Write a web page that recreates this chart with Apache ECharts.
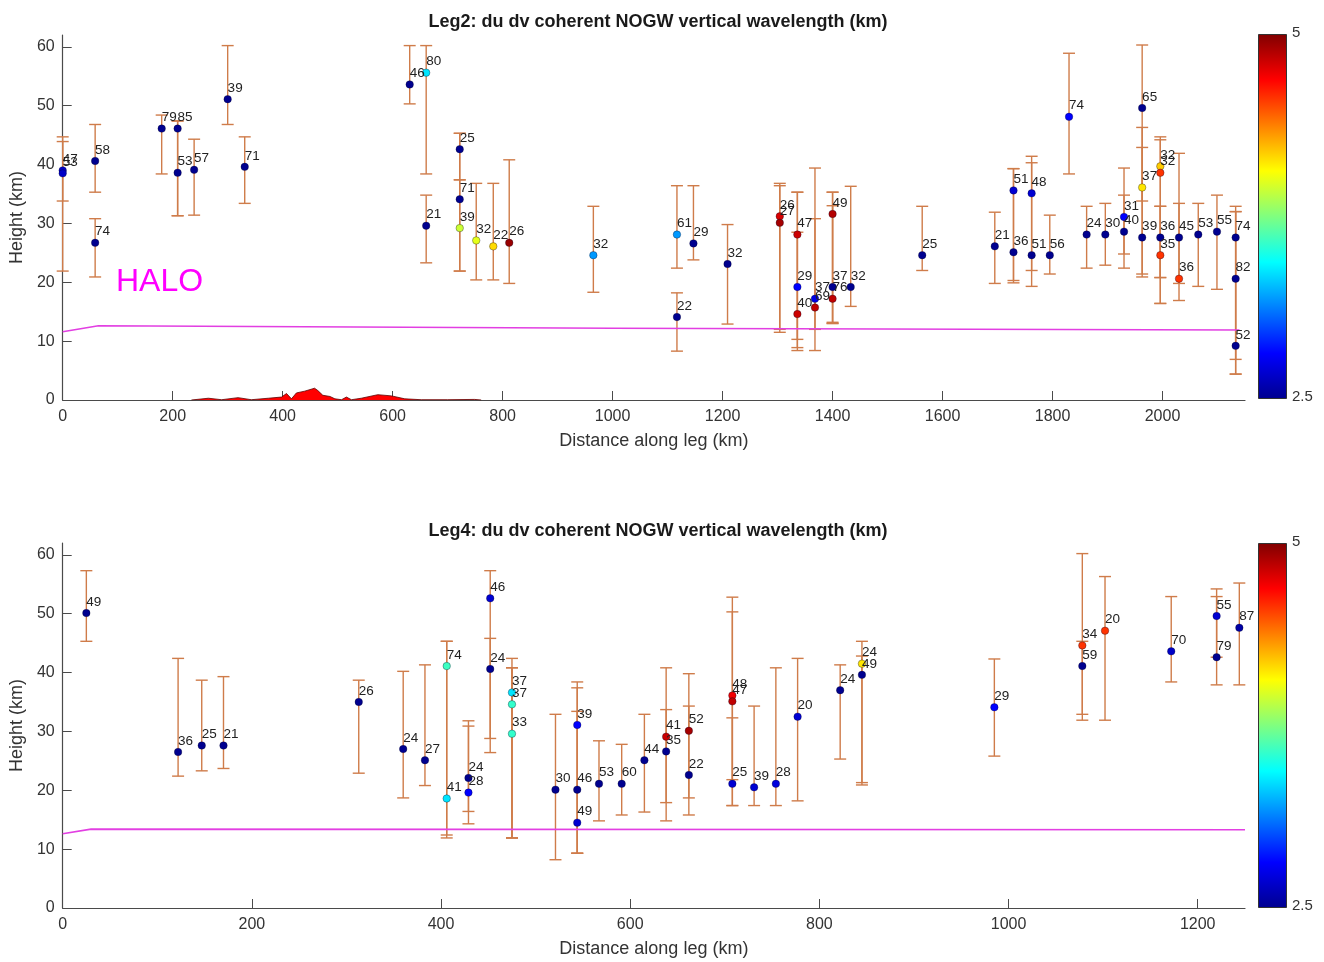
<!DOCTYPE html>
<html>
<head>
<meta charset="utf-8">
<title>NOGW vertical wavelength along legs</title>
<script src="https://cdn.jsdelivr.net/npm/echarts@6/dist/echarts.min.js"></script>
<style>
  html, body { margin: 0; padding: 0; background: #ffffff; }
  #chart { width: 1324px; height: 962px; }
</style>
</head>
<body>
<div id="chart"></div>
<script>
// ---------- Leg 2 wave detections ----------
const leg2Dist   = [0, 0, 59, 59, 180, 209, 209, 239, 300, 331, 631, 661, 661, 722, 722, 722, 752, 783, 812, 965,
                    1117, 1117, 1147, 1209, 1304, 1304, 1336, 1336, 1336, 1368, 1368, 1400, 1400, 1400, 1433,
                    1563, 1695, 1729, 1729, 1762, 1762, 1795, 1830, 1862, 1896, 1930, 1930, 1963, 1963, 1963,
                    1996, 1996, 1996, 1996, 2030, 2030, 2065, 2099, 2133, 2133, 2133];
const leg2Height = [39.0, 38.5, 40.6, 26.7, 46.1, 46.1, 38.6, 39.1, 51.1, 39.6, 53.6, 55.6, 29.6, 42.6, 34.1, 29.2, 27.1, 26.1, 26.7, 24.6,
                    28.1, 14.1, 26.6, 23.1, 31.2, 30.1, 28.1, 19.2, 14.6, 17.2, 15.7, 31.6, 19.2, 17.2, 19.2,
                    24.6, 26.1, 35.6, 25.1, 35.1, 24.6, 24.6, 48.1, 28.1, 28.1, 31.1, 28.6, 49.6, 36.1, 27.6,
                    39.7, 38.6, 27.6, 24.6, 27.6, 20.6, 28.1, 28.6, 27.6, 20.6, 9.2];
const leg2Label  = [47, 53, 58, 74, 79, 85, 53, 57, 39, 71, 46, 80, 21, 25, 71, 39, 32, 22, 26, 32,
                    61, 22, 29, 32, 26, 27, 47, 29, 40, 37, 69, 49, 37, 76, 32,
                    25, 21, 51, 36, 48, 51, 56, 74, 24, 30, 31, 40, 65, 37, 39,
                    32, 32, 36, 35, 45, 36, 53, 55, 74, 82, 52];
const leg2Colour = [2.75, 2.75, 2.5, 2.5, 2.5, 2.5, 2.5, 2.5, 2.5, 2.5, 2.5, 3.45, 2.5, 2.5, 2.5, 3.9, 3.95, 4.07, 4.9, 3.3,
                    3.3, 2.5, 2.5, 2.5, 4.65, 4.85, 4.7, 3.0, 4.7, 2.9, 4.75, 4.8, 2.5, 4.75, 2.5,
                    2.5, 2.5, 2.8, 2.5, 2.8, 2.5, 2.5, 3.0, 2.5, 2.5, 3.0, 2.5, 2.5, 4.05, 2.5,
                    4.1, 4.4, 2.5, 4.4, 2.5, 4.4, 2.5, 2.5, 2.5, 2.5, 2.5];
const leg2Low    = [21.9, 33.8, 35.3, 20.9, 38.4, 31.3, 31.3, 31.4, 46.8, 33.4, 50.3, 38.4, 23.3, 37.4, 21.9, 21.9, 20.4, 20.4, 19.8, 18.3,
                    22.4, 8.3, 23.8, 12.9, 12.0, 11.5, 10.3, 8.4, 8.9, 8.4, 12.0, 13.0, 13.2, 13.0, 15.9,
                    22.0, 19.8, 20.3, 19.9, 19.3, 22.0, 21.4, 38.4, 22.4, 22.9, 24.8, 22.4, 20.9, 33.8, 21.4,
                    20.8, 16.4, 20.8, 16.4, 16.9, 19.8, 19.3, 18.8, 4.4, 6.9, 4.4];
const leg2High   = [44.7, 43.9, 46.8, 30.8, 48.4, 47.4, 47.4, 44.3, 60.2, 44.7, 60.2, 60.2, 34.8, 45.3, 45.3, 37.4, 36.8, 36.8, 40.8, 32.9,
                    36.4, 18.2, 36.4, 29.8, 36.8, 36.4, 35.3, 28.5, 35.3, 39.4, 30.8, 35.3, 35.3, 33.0, 36.3,
                    32.9, 31.9, 39.3, 39.3, 41.4, 40.3, 31.4, 58.9, 32.9, 33.4, 39.4, 34.8, 60.3, 46.3, 42.9,
                    44.7, 44.2, 32.9, 32.9, 41.9, 33.4, 33.4, 34.8, 32.9, 32.0, 32.0];

// ---------- Leg 4 wave detections ----------
const leg4Dist   = [25, 122, 147, 170, 313, 360, 383, 406, 406, 429, 429, 452, 452, 475, 475, 475, 521, 544, 544, 544,
                    567, 591, 615, 638, 638, 662, 662, 708, 708, 708, 731, 754, 777, 822, 845, 845, 985,
                    1078, 1078, 1102, 1172, 1220, 1220, 1244];
const leg4Height = [50.1, 26.5, 27.6, 27.6, 35.0, 27.0, 25.1, 41.1, 18.6, 22.1, 19.6, 52.6, 40.6, 36.6, 34.6, 29.6, 20.1, 31.1, 20.1, 14.5,
                    21.1, 21.1, 25.1, 29.1, 26.6, 30.1, 22.6, 36.1, 35.1, 21.1, 20.5, 21.1, 32.5, 37.0, 41.5, 39.6, 34.1,
                    44.6, 41.1, 47.1, 43.6, 49.6, 42.6, 47.6];
const leg4Label  = [49, 36, 25, 21, 26, 24, 27, 74, 41, 24, 28, 46, 24, 37, 37, 33, 30, 39, 46, 49,
                    53, 60, 44, 41, 35, 52, 22, 48, 47, 25, 39, 28, 20, 24, 24, 49, 29,
                    34, 59, 20, 70, 55, 79, 87];
const leg4Colour = [2.5, 2.5, 2.5, 2.5, 2.5, 2.5, 2.5, 3.62, 3.45, 2.5, 3.0, 2.8, 2.5, 3.45, 3.6, 3.6, 2.5, 3.0, 2.5, 2.8,
                    2.5, 2.5, 2.5, 4.7, 2.5, 4.85, 2.5, 4.55, 4.75, 2.8, 2.8, 2.85, 2.8, 2.5, 4.05, 2.5, 3.0,
                    4.4, 2.5, 4.4, 2.75, 2.8, 2.5, 2.6];
const leg4Low    = [45.3, 22.4, 23.3, 23.7, 22.9, 18.7, 20.8, 11.9, 12.4, 14.3, 16.4, 28.8, 26.4, 11.9, 11.9, 11.9, 8.2, 9.3, 9.3, 9.3,
                    14.8, 15.8, 16.3, 14.8, 17.9, 15.8, 18.7, 21.8, 17.4, 17.4, 17.4, 17.4, 18.2, 25.3, 20.9, 21.3, 25.8,
                    32.9, 31.9, 31.9, 38.4, 37.9, 42.6, 37.9];
const leg4High   = [57.3, 42.4, 38.7, 39.3, 38.7, 40.2, 41.3, 45.3, 45.3, 31.8, 30.9, 57.3, 45.8, 42.4, 40.8, 40.8, 32.9, 38.4, 37.4, 33.4,
                    28.4, 27.8, 32.9, 40.8, 33.7, 39.8, 34.3, 52.8, 50.3, 32.3, 34.3, 40.8, 42.4, 41.3, 45.3, 42.8, 42.3,
                    60.2, 45.3, 56.3, 52.9, 54.2, 52.9, 55.2];

// ---------- Aircraft altitude and terrain ----------
const track2Dist   = [0, 65, 1000, 2140];
const track2Height = [11.6, 12.6, 12.2, 11.9];
const track4Dist   = [0, 30, 1250];
const track4Height = [12.6, 13.4, 13.3];
const terrainDist   = [234, 265, 289, 319, 343, 374, 398, 407, 416, 425, 440, 458, 464, 473, 486, 495, 507, 516, 525,
                       543, 573, 598, 622, 652, 700, 749, 761];
const terrainHeight = [0, 0.3, 0.05, 0.4, 0.05, 0.3, 0.5, 1.1, 0.2, 1.2, 1.5, 2.0, 1.6, 0.8, 0.6, 0.2, 0.05, 0.5, 0.05,
                       0.3, 0.9, 0.7, 0.2, 0.05, 0.05, 0.1, 0];

// ---------- Axis ticks ----------
const heightTicks = [0, 10, 20, 30, 40, 50, 60];
const leg2Ticks = [0, 200, 400, 600, 800, 1000, 1200, 1400, 1600, 1800, 2000];
const leg4Ticks = [0, 200, 400, 600, 800, 1000, 1200];
const colourMin = 2.5, colourMax = 5;

// jet colour map
const jetStops = [
  [0.000, '#00008f'], [0.125, '#0000ff'], [0.375, '#00ffff'],
  [0.625, '#ffff00'], [0.875, '#ff0000'], [1.000, '#800000']
];

const FONT = 'Liberation Sans, Arial, sans-serif';
const AXIS_COLOR = '#4a4a4a';
const BAR_COLOR = '#cf7c4a';

const zip = (...cols) => cols[0].map((_, i) => cols.map(c => c[i]));

function errorBarItem(params, api) {
  const x = api.value(0);
  const lo = api.coord([x, api.value(1)]);
  const hi = api.coord([x, api.value(2)]);
  const w = 6;
  const style = { stroke: BAR_COLOR, lineWidth: 1.4, fill: null };
  return {
    type: 'group',
    children: [
      { type: 'line', shape: { x1: lo[0], y1: lo[1], x2: hi[0], y2: hi[1] }, style },
      { type: 'line', shape: { x1: lo[0] - w, y1: lo[1], x2: lo[0] + w, y2: lo[1] }, style },
      { type: 'line', shape: { x1: hi[0] - w, y1: hi[1], x2: hi[0] + w, y2: hi[1] }, style }
    ]
  };
}

function xAxisFor(gridIndex, max, ticks) {
  return {
    type: 'value', gridIndex, min: 0, max,
    name: 'Distance along leg (km)', nameLocation: 'middle', nameGap: 32,
    nameTextStyle: { fontFamily: FONT, fontSize: 18, color: '#333' },
    axisLine: { show: true, lineStyle: { color: AXIS_COLOR, width: 1.2 } },
    axisTick: { show: true, inside: true, length: 9, customValues: ticks, lineStyle: { color: AXIS_COLOR } },
    axisLabel: { customValues: ticks, formatter: v => String(v), fontFamily: FONT, fontSize: 16, color: '#333', margin: 9 },
    splitLine: { show: false }
  };
}

function yAxisFor(gridIndex) {
  return {
    type: 'value', gridIndex, min: 0, max: 62,
    name: 'Height (km)', nameLocation: 'middle', nameGap: 33,
    nameTextStyle: { fontFamily: FONT, fontSize: 18, color: '#333' },
    axisLine: { show: true, lineStyle: { color: AXIS_COLOR, width: 1.2 } },
    axisTick: { show: true, inside: true, length: 9, customValues: heightTicks, lineStyle: { color: AXIS_COLOR } },
    axisLabel: { customValues: heightTicks, formatter: v => String(v), fontFamily: FONT, fontSize: 16, color: '#333', margin: 8 },
    splitLine: { show: false }
  };
}

function pointSeries(idx, data) {
  return {
    type: 'scatter', xAxisIndex: idx, yAxisIndex: idx, data,
    symbolSize: 7.5, z: 4,
    itemStyle: { borderColor: 'rgba(0,0,30,0.55)', borderWidth: 0.6, opacity: 1 },
    label: {
      show: true, position: [4, -14],
      formatter: p => String(p.value[3]),
      fontFamily: FONT, fontSize: 13.5, color: '#222'
    },
    emphasis: { disabled: true }
  };
}

function barSeries(idx, data) {
  return {
    type: 'custom', xAxisIndex: idx, yAxisIndex: idx, data,
    renderItem: errorBarItem, encode: { x: 0, y: [1, 2] }, z: 2, silent: true
  };
}

function trackSeries(idx, data) {
  return {
    type: 'line', xAxisIndex: idx, yAxisIndex: idx, data,
    symbol: 'none', lineStyle: { color: '#e23fe2', width: 1.6 }, z: 3, silent: true
  };
}

function colourBar(top, height) {
  const stops = jetStops.map(([o, c]) => ({ offset: 1 - o, color: c })).reverse();
  return [
    {
      type: 'rect', left: 1258, top, shape: { width: 28, height },
      style: { fill: new echarts.graphic.LinearGradient(0, 0, 0, 1, stops), stroke: '#333', lineWidth: 1 }
    },
    { type: 'text', left: 1292, top: top - 9, style: { text: String(colourMax), font: '15px ' + FONT, fill: '#333' } },
    { type: 'text', left: 1292, top: top + height - 9, style: { text: String(colourMin), font: '15px ' + FONT, fill: '#333' } }
  ];
}

const chart = echarts.init(document.getElementById('chart'), null, { renderer: 'canvas' });

const option = {
  backgroundColor: '#ffffff',
  animation: false,
  title: [
    { text: 'Leg2: du dv coherent NOGW vertical wavelength (km)', left: 653, top: 8, textAlign: 'center',
      textStyle: { fontFamily: FONT, fontSize: 18, fontWeight: 'bold', color: '#1a1a1a' } },
    { text: 'Leg4: du dv coherent NOGW vertical wavelength (km)', left: 653, top: 517, textAlign: 'center',
      textStyle: { fontFamily: FONT, fontSize: 18, fontWeight: 'bold', color: '#1a1a1a' } }
  ],
  grid: [
    { left: 61, right: 79, top: 35, height: 365 },
    { left: 61, right: 79, top: 543, height: 365 }
  ],
  xAxis: [xAxisFor(0, 2150, leg2Ticks), xAxisFor(1, 1250, leg4Ticks)],
  yAxis: [yAxisFor(0), yAxisFor(1)],
  visualMap: [0, 1].map(i => ({
    type: 'continuous', show: false, min: colourMin, max: colourMax, dimension: 2,
    seriesIndex: i === 0 ? 3 : 6,
    inRange: { color: jetStops.map(s => s[1]) }
  })),
  series: [
    {
      type: 'line', xAxisIndex: 0, yAxisIndex: 0, data: zip(terrainDist, terrainHeight),
      symbol: 'none', lineStyle: { color: '#5a0000', width: 0.8 },
      areaStyle: { color: '#ff0000', opacity: 1 }, z: 1, silent: true
    },
    barSeries(0, zip(leg2Dist, leg2Low, leg2High)),
    trackSeries(0, zip(track2Dist, track2Height)),
    pointSeries(0, zip(leg2Dist, leg2Height, leg2Colour, leg2Label)),
    barSeries(1, zip(leg4Dist, leg4Low, leg4High)),
    trackSeries(1, zip(track4Dist, track4Height)),
    pointSeries(1, zip(leg4Dist, leg4Height, leg4Colour, leg4Label))
  ],
  graphic: [
    { type: 'text', left: 116, top: 266, style: { text: 'HALO', font: '32px ' + FONT, fill: '#ff00ff' } },
    ...colourBar(34, 364),
    ...colourBar(543, 364)
  ]
};

chart.setOption(option);
</script>
</body>
</html>
